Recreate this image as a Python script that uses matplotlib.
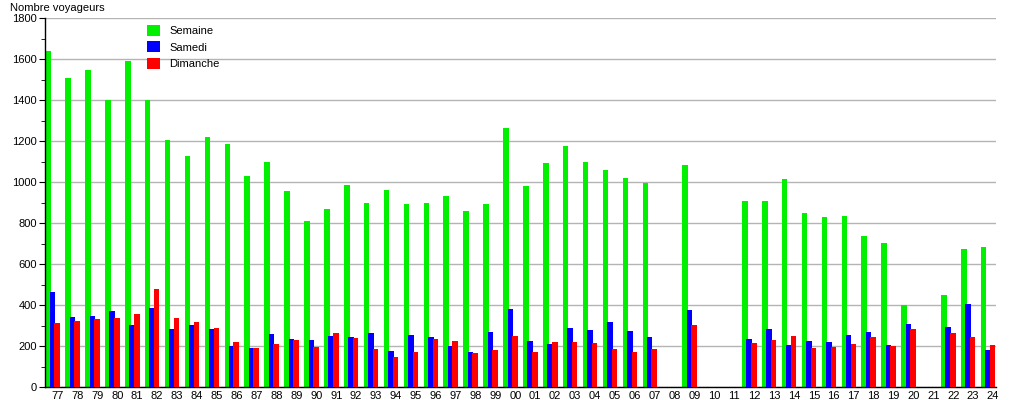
import numpy as np
import matplotlib
matplotlib.use('Agg')
import matplotlib.pyplot as plt
from matplotlib.ticker import MultipleLocator

plt.rcParams['font.family'] = ['Liberation Sans', 'DejaVu Sans']

years = ['77', '78', '79', '80', '81', '82', '83', '84', '85', '86', '87', '88',
         '89', '90', '91', '92', '93', '94', '95', '96', '97', '98', '99', '00',
         '01', '02', '03', '04', '05', '06', '07', '08', '09', '10', '11', '12',
         '13', '14', '15', '16', '17', '18', '19', '20', '21', '22', '23', '24']

nan = np.nan
semaine = [1640, 1505, 1545, 1400, 1592, 1398, 1207, 1128, 1221, 1187, 1031, 1099,
           958, 811, 870, 987, 899, 963, 894, 899, 933, 860, 894, 1265,
           982, 1094, 1177, 1099, 1060, 1021, 997, nan, 1085, nan, nan, 909,
           909, 1016, 850, 831, 836, 738, 704, 402, nan, 450, 675, 685]
samedi = [465, 343, 348, 372, 304, 387, 285, 304, 285, 202, 188, 260,
          236, 231, 250, 246, 265, 177, 255, 246, 202, 172, 270, 382,
          226, 211, 289, 280, 319, 275, 246, nan, 377, nan, nan, 236,
          285, 207, 226, 221, 255, 270, 207, 309, nan, 294, 407, 182]
dimanche = [310, 320, 333, 338, 358, 480, 338, 319, 289, 221, 192, 211,
            231, 193, 265, 241, 187, 148, 172, 236, 226, 167, 182, 250,
            172, 221, 221, 216, 187, 172, 187, nan, 304, nan, nan, 216,
            231, 250, 192, 197, 211, 246, 202, 285, nan, 265, 246, 207]

x = np.arange(len(years))
w = 0.28

fig = plt.figure(figsize=(10.15, 4.0), dpi=100)
ax = fig.add_axes([45 / 1015, 13 / 400, 951 / 1015, 369 / 400])

ax.bar(x - 0.47, semaine, w, color='#00f000', label='Semaine', zorder=2)
ax.bar(x - 0.25, samedi, w, color='#0000ff', label='Samedi', zorder=3)
ax.bar(x - 0.02, dimanche, w, color='#ff0000', label='Dimanche', zorder=4)

ax.set_xlim(-0.63, 47.15)
ax.set_ylim(0, 1800)
ax.yaxis.set_major_locator(MultipleLocator(200))
ax.yaxis.set_minor_locator(MultipleLocator(100))
ax.set_xticks(x)
ax.set_xticklabels(years)
ax.tick_params(axis='x', length=0, labelsize=8, pad=3)
ax.tick_params(axis='y', which='major', length=4, labelsize=8, pad=2)
ax.tick_params(axis='y', which='minor', length=3)
ax.grid(axis='y', color='#b4b4b4', linewidth=1, zorder=0)
ax.set_axisbelow(True)
for s in ['top', 'right']:
    ax.spines[s].set_visible(False)
ax.spines['left'].set_linewidth(1)
ax.spines['bottom'].set_linewidth(1)

fig.text(10 / 1015, 1 - 8 / 400, 'Nombre voyageurs', fontsize=8, va='center', ha='left')

ax.legend(loc='upper left', bbox_to_anchor=(147 / 1015, 1 - 25 / 400),
          bbox_transform=fig.transFigure, frameon=False, fontsize=8,
          handlelength=1.2, handleheight=1.15, handletextpad=0.8,
          labelspacing=0.45, borderpad=0, borderaxespad=0)

fig.savefig('out.png', dpi=100)
